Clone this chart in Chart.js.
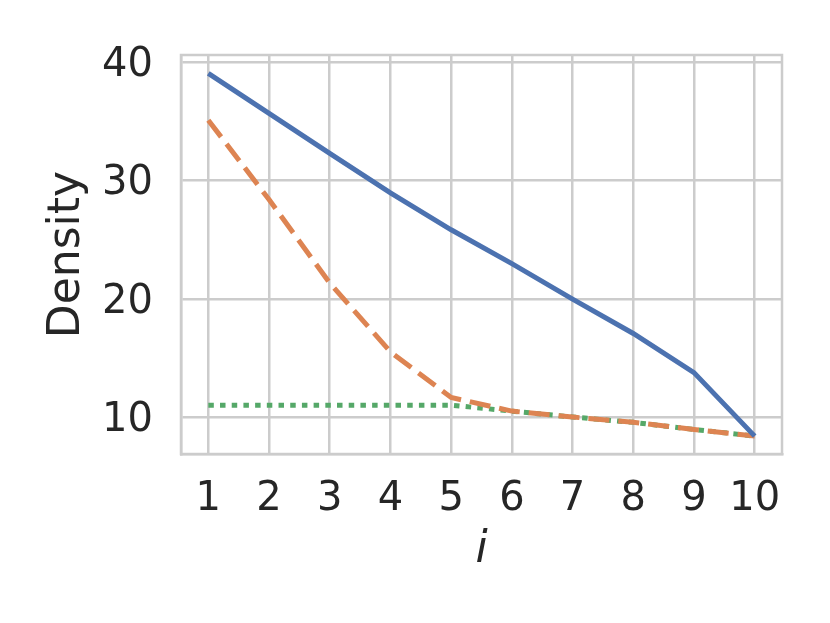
<!DOCTYPE html>
<html>
<head>
<meta charset="utf-8">
<script src="https://cdn.jsdelivr.net/npm/chart.js@4"></script>
<style>
  html, body { margin: 0; padding: 0; background: #ffffff; }
  #wrap { width: 830px; height: 623px; }
</style>
</head>
<body>
<div id="wrap"><canvas id="c" width="830" height="623"></canvas></div>
<script>
// ---- data ----
const iValues = [1, 2, 3, 4, 5, 6, 7, 8, 9, 10];
const seriesSolid  = [39.05, 35.67, 32.3, 28.97, 25.85, 23.0, 20.0, 17.1, 13.8, 8.44];
const seriesDashed = [35.1, 28.4, 21.35, 15.55, 11.7, 10.55, 10.05, 9.6, 9.0, 8.44];
const seriesDotted = [11.05, 11.05, 11.05, 11.05, 11.05, 10.55, 10.05, 9.6, 9.0, 8.44];
const xTickValues = [1, 2, 3, 4, 5, 6, 7, 8, 9, 10];
const yTickValues = [10, 20, 30, 40];
const xAxisTitle = 'i';
const yAxisTitle = 'Density';

const toPts = (ys) => iValues.map((x, k) => ({ x: x, y: ys[k] }));

const GRID = '#cccccc';
const TEXT = '#262626';
const FONT = 'DejaVu Sans';

const framePlugin = {
  id: 'frame',
  beforeDatasetsDraw(chart) {
    const a = chart.chartArea, ctx = chart.ctx;
    ctx.save();
    ctx.strokeStyle = GRID;
    ctx.lineWidth = 2.5;
    ctx.strokeRect(a.left, a.top, a.right - a.left, a.bottom - a.top);
    ctx.restore();
  }
};

new Chart(document.getElementById('c'), {
  type: 'line',
  data: {
    datasets: [
      { data: toPts(seriesSolid), borderColor: '#4c72b0', borderWidth: 5, pointRadius: 0, tension: 0, fill: false },
      { data: toPts(seriesDashed), borderColor: '#dd8452', borderWidth: 5, borderDash: [21, 9], borderCapStyle: 'butt', pointRadius: 0, tension: 0, fill: false },
      { data: toPts(seriesDotted), borderColor: '#55a868', borderWidth: 5, borderDash: [5.5, 6.2], borderCapStyle: 'butt', pointRadius: 0, tension: 0, fill: false }
    ]
  },
  options: {
    responsive: false,
    animation: false,
    devicePixelRatio: 1,
    layout: { padding: { top: 55, right: 48, bottom: 0, left: 0 } },
    plugins: { legend: { display: false }, tooltip: { enabled: false } },
    scales: {
      x: {
        type: 'linear',
        min: 0.55, max: 10.45,
        afterBuildTicks: (s) => { s.ticks = xTickValues.map(v => ({ value: v })); },
        afterFit: (s) => { s.height = 169; },
        grid: { color: GRID, lineWidth: 2.5, drawTicks: false },
        border: { display: true, color: GRID, width: 2.5 },
        ticks: { color: TEXT, font: { family: FONT, size: 40 }, padding: 22, maxRotation: 0, autoSkip: false },
        title: { display: true, text: xAxisTitle, color: TEXT, font: { family: FONT, size: 44, style: 'italic' }, padding: { top: 0, bottom: 46 } }
      },
      y: {
        type: 'linear',
        min: 6.93, max: 40.6,
        afterBuildTicks: (s) => { s.ticks = yTickValues.map(v => ({ value: v })); },
        afterFit: (s) => { s.width = 181; },
        grid: { color: GRID, lineWidth: 2.5, drawTicks: false },
        border: { display: true, color: GRID, width: 2.5 },
        ticks: { color: TEXT, font: { family: FONT, size: 40 }, padding: 28, labelOffset: 3, autoSkip: false },
        title: { display: true, text: yAxisTitle, color: TEXT, font: { family: FONT, size: 44 }, padding: { top: 41, bottom: 0 } }
      }
    }
  },
  plugins: [framePlugin]
});
</script>
</body>
</html>
